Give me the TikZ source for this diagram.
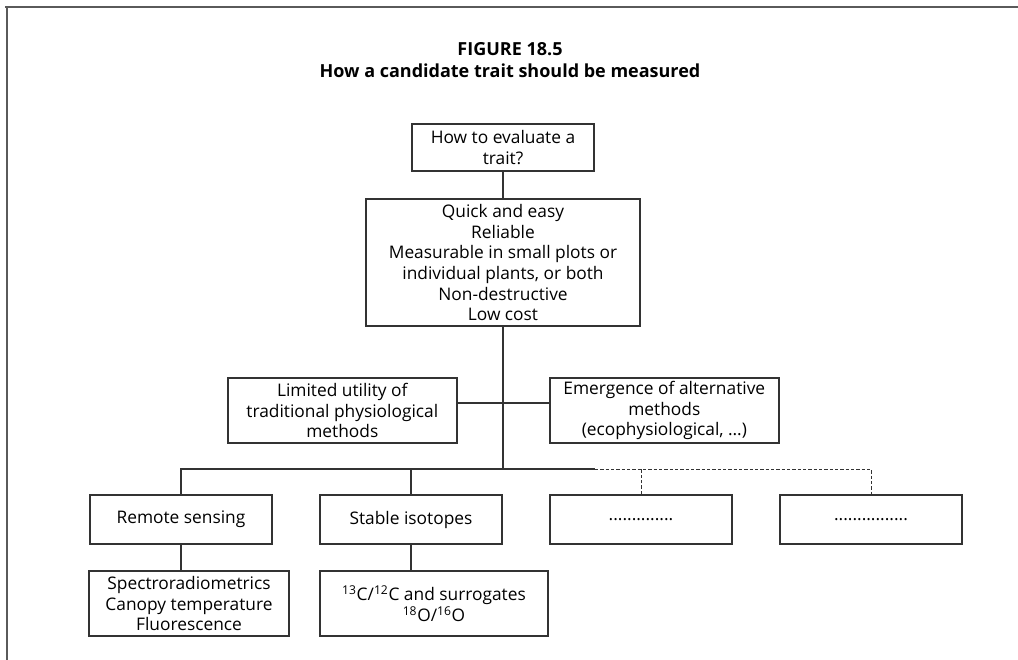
\documentclass[tikz,border=0pt]{standalone}
\usepackage{fontspec}
\setmainfont{Open Sans}
\usetikzlibrary{positioning}
\definecolor{inkline}{HTML}{333333}
\definecolor{framegray}{HTML}{5A5A5A}

\begin{document}
\begin{tikzpicture}[
    x=0.75pt,y=-0.75pt,
    font=\fontsize{13}{15.5}\selectfont,
    box/.style={draw=inkline,line width=1.5pt,align=center,inner sep=2pt},
    wide/.style={box,minimum height=48.75pt},
    leaf/.style={box,minimum width=136.5pt,minimum height=36.75pt},
    link/.style={draw=inkline,line width=1.5pt},
    maybe/.style={draw=inkline,line width=0.75pt,dash pattern=on 2.5pt off 1.5pt},
    frame/.style={draw=framegray,line width=1.5pt},
    heading/.style={font=\bfseries\fontsize{13.5}{16}\selectfont,align=center},
  ]
    \useasboundingbox (0,0) rectangle (1018,660);
    \draw[frame] (5,7) -- (1018,7);
    \draw[frame] (7,7) -- (7,660);

    \node[heading] (head) at (510,60) {FIGURE 18.5\\How a candidate trait should be measured};
    \node[box,minimum width=136.5pt,minimum height=35.25pt] (ask) at (503,147.5) {How to evaluate a\\trait?};
    \node[box,below=19.5pt of ask,minimum width=205.5pt,minimum height=95.25pt] (crit)
      {Quick and easy\\Reliable\\Measurable in small plots or\\individual plants, or both\\Non-destructive\\Low cost};
    \node[wide,below=37.5pt of crit,xshift=-120.5pt,minimum width=171.75pt] (limits) {Limited utility of\\traditional physiological\\methods};
    \node[wide,below=37.5pt of crit,xshift=121pt,minimum width=171.75pt] (emerge) {Emergence of alternative\\methods\\(ecophysiological, \ldots)};
    \node[leaf,below=37.5pt of limits,xshift=-121pt] (remote) {Remote sensing};
    \node[leaf,right=34.5pt of remote] (isotope) {Stable isotopes};
    \node[leaf,right=34.5pt of isotope] (blank1) {..............};
    \node[leaf,right=34.5pt of blank1] (blank2) {................};
    \node[wide,below=18.75pt of remote,xshift=6pt,minimum width=150pt] (sensors) {Spectroradiometrics\\Canopy temperature\\Fluorescence};
    \node[wide,below=18.75pt of isotope,xshift=17.25pt,minimum width=171pt] (ratios)
      {\textsuperscript{13}C/\textsuperscript{12}C and surrogates\\\textsuperscript{18}O/\textsuperscript{16}O};

    \coordinate (bus) at (503,469);
    \coordinate (cut) at (595,469);

    \draw[link] (ask) -- (crit);
    \draw[link] (crit) -- (bus);
    \draw[link] ([yshift=6pt]limits.east) -- ([yshift=6pt]emerge.west);
    \draw[link] (remote) |- (cut);
    \draw[link] (isotope) -- (isotope |- bus);
    \draw[maybe] (cut) -| (blank2);
    \draw[maybe] (blank1) -- (blank1 |- bus);
    \draw[link] (remote) -- (remote |- sensors.north);
    \draw[link] (isotope) -- (isotope |- ratios.north);
\end{tikzpicture}
\end{document}
